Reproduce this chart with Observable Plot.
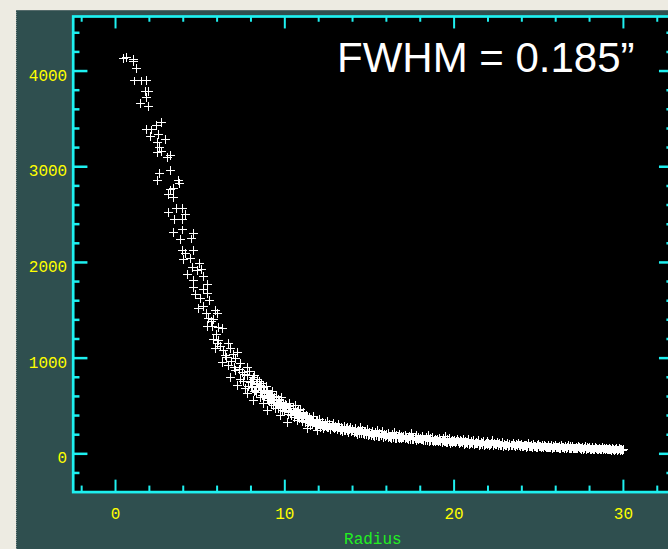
<!DOCTYPE html>
<html><head><meta charset="utf-8">
<script src="https://cdn.jsdelivr.net/npm/d3@7"></script>
<script src="https://cdn.jsdelivr.net/npm/@observablehq/plot@0.6"></script>
<style>
html,body{margin:0;padding:0;background:#edebe2;width:668px;height:549px;overflow:hidden}
#wrap{position:relative;width:668px;height:549px;overflow:hidden}
#slate{position:absolute;left:16px;top:10px;right:0;bottom:0;background:#2f4f4f;border-top:1px solid #556b6b;border-left:1px dotted #7a8a8a}
#chart{position:absolute;left:0;top:0}
</style></head><body><div id="wrap"><div id="slate"></div><div id="chart"></div></div>
<script>
// radius and intensity pairs
const radius = [
0.47,0.62,1.04,1.08,1.22,1.14,1.53,1.83,1.77,1.97,1.81,1.48,1.97,2.72,2.40,1.83,2.10,2.07,2.56,2.97,2.50,2.60,2.46,2.72,3.05,3.25,2.62,3.25,2.50,3.74,3.80,3.25,3.41,3.15,3.43,3.58,3.94,3.15,4.13,3.49,3.94,3.94,3.41,4.62,3.84,4.47,
3.94,4.62,4.13,4.43,4.03,4.97,4.52,5.06,4.82,4.23,5.21,4.62,5.41,4.62,5.18,4.72,5.45,5.02,5.57,5.21,4.92,5.91,5.36,6.00,5.51,5.81,5.41,5.71,6.10,6.30,5.81,6.10,6.69,5.91,6.20,6.79,7.22,6.50,7.09,6.30,7.38,6.69,7.77,7.09,7.48,6.79,7.77,8.15,7.38,7.97,7.18,8.56,7.67,8.27,8.96,7.77,8.56,9.15,8.15,8.74,9.63,9.45,8.96,10.04,10.33,9.75,11.12,10.73,11.52,10.14,11.32,11.91,
5.65,5.95,6.05,6.40,6.55,6.85,6.95,7.05,7.30,7.55,7.60,7.85,7.90,
8.05,8.1,8.2,8.3,8.35,8.4,8.5,8.55,8.6,8.7,8.75,8.8,8.9,8.95,9.0,
9.05,9.1,9.2,9.25,9.3,9.35,9.4,9.5,9.55,9.6,9.7,9.75,9.8,9.85,9.9,9.95,
10.0,10.05,10.1,10.2,10.25,10.3,10.35,10.4,10.5,10.55,10.6,10.65,10.7,10.8,10.85,10.9,10.95,
11.0,11.05,11.1,11.2,11.25,11.3,11.4,11.45,11.5,11.6,11.65,11.7,11.8,11.85,11.9,11.95,
12.0,12.05,12.1,12.2,12.25,12.3,12.4,12.45,12.5,12.6,12.65,12.7,12.8,12.85,12.9,12.95,
13.0,13.1,13.15,13.2,13.3,13.35,13.4,13.5,13.55,13.6,13.7,13.75,13.8,13.9,13.95,
14.0,14.1,14.15,14.2,14.3,14.35,14.4,14.5,14.55,14.6,14.7,14.75,14.8,14.9,14.95,
15.0,15.1,15.15,15.2,15.3,15.35,15.4,15.5,15.55,15.6,15.7,15.75,15.8,15.9,15.95,
16.0,16.1,16.15,16.2,16.3,16.35,16.4,16.5,16.55,16.6,16.7,16.75,16.8,16.9,16.95,
17.0,17.1,17.15,17.2,17.3,17.35,17.4,17.5,17.55,17.6,17.7,17.75,17.8,17.9,17.95,
18.0,18.1,18.15,18.2,18.3,18.35,18.4,18.5,18.55,18.6,18.7,18.75,18.8,18.9,18.95,
19.0,19.1,19.15,19.2,19.3,19.35,19.4,19.5,19.55,19.6,19.7,19.75,19.8,19.9,19.95,
20.0,20.1,20.2,20.25,20.3,20.4,20.5,20.55,20.6,20.7,20.8,20.85,20.9,21.0,
21.1,21.15,21.2,21.3,21.4,21.45,21.5,21.6,21.7,21.75,21.8,21.9,21.95,
22.0,22.1,22.2,22.25,22.3,22.4,22.5,22.55,22.6,22.7,22.8,22.85,22.9,
23.0,23.1,23.15,23.2,23.3,23.4,23.5,23.6,23.7,23.75,23.8,23.9,23.95,
24.0,24.1,24.2,24.25,24.3,24.4,24.5,24.6,24.65,24.7,24.8,24.9,24.95,
25.0,25.1,25.2,25.3,25.35,25.4,25.5,25.6,25.7,25.75,25.8,25.9,25.95,
26.0,26.1,26.2,26.3,26.35,26.4,26.5,26.6,26.7,26.75,26.8,26.9,26.95,
27.0,27.1,27.2,27.3,27.35,27.4,27.5,27.6,27.7,27.75,27.8,27.9,27.95,
28.0,28.1,28.2,28.3,28.35,28.4,28.5,28.6,28.7,28.75,28.8,28.9,28.95,
29.0,29.1,29.2,29.3,29.35,29.4,29.5,29.6,29.7,29.75,29.8,29.9,29.95,30.0,
8.02,8.12,8.22,8.32,8.42,8.52,8.62,8.72,8.82,8.92,9.02,9.12,9.22,9.32,9.42,9.52,9.62,9.72,9.82,9.92,
10.02,10.12,10.22,10.32,10.42,10.52,10.62,10.72,10.82,10.92,11.02,11.12,11.22,11.32,11.42,11.52,11.62,11.72,11.82,11.92,
12.02,12.12,12.22,12.32,12.42,12.52,12.62,12.72,12.82,12.92,13.02,13.12,13.22,13.32,13.42,13.52,13.62,13.72,13.82,13.92,
14.02,14.12,14.22,14.32,14.42,14.52,14.62,14.72,14.82,14.92,15.02,15.12,15.22,15.32,15.42,15.52,15.62,15.72,15.82,15.92,
16.02,16.12,16.22,16.32,16.42,16.52,16.62,16.72,16.82,16.92,17.02,17.12,17.22,17.32,17.42,17.52,17.62,17.72,17.82,17.92,
18.02,18.12,18.22,18.32,18.42,18.52,18.62,18.72,18.82,18.92,19.02,19.12,19.22,19.32,19.42,19.52,19.62,19.72,19.82,19.92,
20.05,20.15,20.35,20.45,20.65,20.75,20.95,21.05,21.25,21.35,21.55,21.65,21.85,22.05,22.15,22.35,22.45,
22.65,22.75,22.95,23.05,23.25,23.45,23.55,23.65,23.85,24.05,24.15,24.35,24.45,24.55,24.75,24.85,25.05,25.15,25.25,25.45,25.55,25.65,25.85,
26.05,26.15,26.25,26.45,26.55,26.65,26.85,27.05,27.15,27.25,27.45,27.55,27.65,27.85,28.05,28.15,28.25,28.45,28.55,28.65,28.85,29.05,29.15,29.25,29.45,29.55,29.65,29.85,29.92
];
const intensity = [
4136,4140,4125,4097,4024,3896,3896,3902,3787,3787,3728,3658,3630,3463,3436,3394,3384,3311,3342,3282,3251,3202,3144,3157,3098,3115,2931,2959,2854,2854,2820,2757,2768,2705,2680,2565,2565,2523,2506,2444,2447,2339,2311,2298,2235,2245,
2123,2123,2089,2037,2026,1991,1949,1922,1914,1873,1852,1810,1768,1740,1713,1664,1677,1619,1601,1538,1514,1497,1462,1462,1410,1399,1329,1329,1322,1305,1191,1183,1149,1097,1121,1097,1061,1027,992,957,940,922,904,870,852,800,818,800,773,748,713,713,679,661,627,627,591,574,557,522,539,470,452,504,434,400,418,348,313,330,261,243,
1380,1250,1150,1080,1010,960,1040,900,880,760,830,700,860,
760,690,820,720,640,780,700,660,740,610,690,650,700,580,640,
560,610,530,590,650,500,560,600,520,470,560,510,590,450,530,480,
440,520,470,410,490,530,450,400,470,430,380,500,420,450,370,410,460,
390,340,430,370,330,400,350,380,300,360,330,390,320,350,290,340,
310,360,280,330,300,260,320,290,340,280,310,250,300,270,320,260,
290,250,280,310,240,270,230,260,290,240,270,220,250,280,230,
250,220,260,235,205,245,225,270,210,240,200,230,215,250,195,
220,195,235,210,185,225,200,240,180,215,195,230,175,205,190,
200,175,215,185,165,200,180,225,160,190,170,205,155,185,170,
180,160,195,170,150,185,165,210,145,175,158,190,140,170,155,
165,145,180,155,135,170,150,195,130,160,140,175,128,155,142,
150,132,165,140,122,158,138,180,118,148,128,160,112,140,125,
135,115,150,125,105,140,118,155,100,130,112,145,98,125,
110,140,95,120,105,135,92,118,100,130,88,112,98,
125,92,110,135,85,105,95,120,82,108,90,115,80,
100,88,112,78,98,85,108,75,95,82,105,72,90,
100,78,92,70,88,105,75,85,68,95,80,65,88,
95,72,85,65,90,78,62,82,70,92,60,78,68,
85,65,78,58,82,70,55,75,62,88,55,72,60,
78,58,70,52,75,62,50,68,56,72,48,64,54,
70,50,62,45,66,55,42,60,48,63,40,56,46,
60,44,55,38,58,46,36,52,40,55,34,48,38,45,
700,780,650,740,690,760,640,700,600,660,590,560,620,540,590,530,570,490,540,500,
470,500,440,470,430,450,410,440,400,430,370,400,350,380,330,360,310,350,300,330,
330,300,310,290,300,280,300,275,285,265,270,260,275,255,265,245,260,240,250,235,
240,235,220,230,215,225,210,220,205,215,205,210,195,205,190,200,185,195,190,180,
190,185,175,185,170,180,165,175,170,160,170,165,155,165,152,160,150,158,155,145,
155,150,142,150,138,148,135,145,140,132,140,135,128,136,125,132,120,130,125,118,
125,130,118,125,112,120,110,115,108,112,102,108,100,105,98,100,94,
96,90,94,88,90,84,88,80,84,80,84,76,80,72,76,70,74,68,72,66,70,64,66,
62,66,60,62,58,60,56,58,54,56,52,56,50,52,48,52,46,50,44,48,44,46,42,44,40,44,38,42,40
];
const points = radius.map((r, i) => ({r, v: intensity[i]}));

const xMajor = [0, 10, 20, 30];
const xMinor = [-2, 2, 4, 6, 8, 12, 14, 16, 18, 22, 24, 26, 28, 32];
const yMajor = [0, 1000, 2000, 3000, 4000];
const yMinor = [-200, 200, 400, 600, 800, 1200, 1400, 1600, 1800, 2200, 2400, 2600, 2800, 3200, 3400, 3600, 3800, 4200, 4400];
const xLabels = ["0", "10", "20", "30"];
const yLabels = ["0", "1000", "2000", "3000", "4000"];
const xTitle = "Radius";
const annotation = "FWHM = 0.185\u201D";

const X0 = -2.5, X1 = 32.9, Y0 = -400, Y1 = 4570;
const cyan = "#1ef0f0", yellow = "#ffff00", green = "#22ee22";
const mono = "'Liberation Mono', 'DejaVu Sans Mono', monospace";

const chart = Plot.plot({
  width: 668, height: 549,
  marginLeft: 72.7, marginRight: -4, marginTop: 16, marginBottom: 57.4,
  x: {domain: [X0, X1], axis: null},
  y: {domain: [Y0, Y1], axis: null},
  style: {background: "transparent", overflow: "hidden"},
  marks: [
    Plot.frame({fill: "black", stroke: null}),
    Plot.dot(points, {x: "r", y: "v", symbol: "plus", r: 3, stroke: "white", strokeWidth: 1, shapeRendering: "crispEdges"}),
    // bottom/top ticks
    Plot.ruleX(xMajor, {x: d => d, y1: Y0, y2: Y0 + 125, stroke: cyan, strokeWidth: 2}),
    Plot.ruleX(xMinor, {x: d => d, y1: Y0, y2: Y0 + 63, stroke: cyan, strokeWidth: 2}),
    Plot.ruleX(xMajor, {x: d => d, y1: Y1, y2: Y1 - 130, stroke: cyan, strokeWidth: 2}),
    Plot.ruleX(xMinor, {x: d => d, y1: Y1, y2: Y1 - 60, stroke: cyan, strokeWidth: 2}),
    // left/right ticks
    Plot.ruleY(yMajor, {y: d => d, x1: X0, x2: X0 + 0.87, stroke: cyan, strokeWidth: 2.5}),
    Plot.ruleY(yMinor, {y: d => d, x1: X0, x2: X0 + 0.4, stroke: cyan, strokeWidth: 2.5}),
    Plot.ruleY(yMajor, {y: d => d, x1: X1, x2: X1 - 0.77, stroke: cyan, strokeWidth: 2.5}),
    Plot.ruleY(yMinor, {y: d => d, x1: X1, x2: X1 - 0.33, stroke: cyan, strokeWidth: 2.5}),
    Plot.frame({stroke: cyan, strokeWidth: 2.7}),
    // tick labels
    Plot.text(xMajor, {x: d => d, y: Y0, text: (d, i) => xLabels[i], dy: 22, fill: yellow, fontSize: 16, fontFamily: mono, textAnchor: "middle"}),
    Plot.text(yMajor, {x: X0, y: d => d, text: (d, i) => yLabels[i], dx: -6, dy: 4.5, fill: yellow, fontSize: 16, fontFamily: mono, textAnchor: "end"}),
    Plot.text([xTitle], {frameAnchor: "bottom", text: d => d, dy: 51.5, fill: green, fontSize: 16, fontFamily: mono}),
    Plot.text([annotation], {frameAnchor: "top-left", text: d => d, dx: 263.8, dy: 25.5, lineAnchor: "top", textAnchor: "start", fill: "white", fontSize: 42, fontFamily: "'Liberation Sans', Arial, sans-serif"})
  ]
});
document.getElementById("chart").appendChild(chart);
</script>
</body></html>
